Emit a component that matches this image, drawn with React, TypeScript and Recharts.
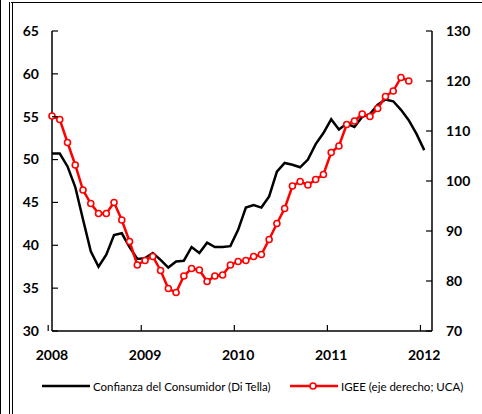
import { ComposedChart, Line, XAxis, YAxis, Legend } from 'recharts';

const years = [2008, 2009, 2010, 2011, 2012];
const months: string[] = [];
years.forEach((y) => {
  for (let m = 1; m <= 12; m++) {
    if (y === 2012 && m > 2) break;
    months.push(`${y}-${String(m).padStart(2, '0')}`);
  }
});

// Confianza del Consumidor (Di Tella), left axis
const confianza: (number | null)[] = [
  50.7, 50.7, 49.2, 46.8, 43.0, 39.3, 37.5, 38.9, 41.2, 41.4, 39.8, 38.4,
  38.5, 39.1, 38.3, 37.4, 38.1, 38.2, 39.8, 39.1, 40.3, 39.8, 39.8, 39.9,
  41.8, 44.4, 44.7, 44.4, 45.7, 48.6, 49.6, 49.4, 49.1, 50.0, 51.8, 53.1,
  54.7, 53.5, 54.2, 53.8, 55.0, 55.3, 56.4, 57.0, 56.8, 55.8, 54.6, 53.0,
  51.1, null,
];

// IGEE (eje derecho; UCA), right axis
const igee: (number | null)[] = [
  113.0, 112.3, 107.7, 103.2, 98.2, 95.5, 93.5, 93.5, 95.7, 92.2, 87.9, 83.2,
  84.1, 84.9, 82.1, 78.5, 77.7, 81.0, 82.5, 82.2, 79.9, 81.0, 81.2, 83.2,
  83.9, 84.1, 84.9, 85.3, 88.3, 91.5, 94.5, 99.0, 99.9, 99.2, 100.3, 101.3,
  105.7, 107.0, 111.3, 112.0, 113.4, 112.9, 114.5, 116.9, 118.0, 120.7, 120.0, null,
  null, null,
];

const yearTicks = ['2008-01', '2009-01', '2010-01', '2011-01', '2012-01'];
const leftTicks = [30, 35, 40, 45, 50, 55, 60, 65];
const rightTicks = [70, 80, 90, 100, 110, 120, 130];

const data = months.map((m, i) => ({ month: m, confianza: confianza[i], igee: igee[i] }));

const W = 482;
const H = 414;
const PLOT_LEFT = 52;
const PLOT_RIGHT = 432;
const BAND = (PLOT_RIGHT - PLOT_LEFT) / months.length;
const FONT = 'Lato, "Open Sans", sans-serif';

const LeftTick = (props: any) => {
  const { x, y, payload } = props;
  return (
    <g>
      <line x1={x} x2={x + 6} y1={y} y2={y} stroke="#000" strokeWidth={1.2} />
      <text x={x - 13} y={y} dy="0.35em" textAnchor="end" fontFamily={FONT} fontWeight={700} fontSize={14} fill="#000">
        {payload.value}
      </text>
    </g>
  );
};

const RightTick = (props: any) => {
  const { x, y, payload } = props;
  return (
    <g>
      <line x1={x - 6} x2={x} y1={y} y2={y} stroke="#000" strokeWidth={1.2} />
      <text x={x + 14} y={y} dy="0.35em" textAnchor="start" fontFamily={FONT} fontWeight={700} fontSize={14} fill="#000">
        {payload.value}
      </text>
    </g>
  );
};

const BottomTick = (props: any) => {
  const { x, y, payload } = props;
  const tx = x - BAND / 2;
  return (
    <g>
      <line x1={tx} x2={tx} y1={y - 6} y2={y} stroke="#000" strokeWidth={1.2} />
      <text x={x} y={y + 29} textAnchor="middle" fontFamily={FONT} fontWeight={700} fontSize={14} fill="#000">
        {String(payload.value).slice(0, 4)}
      </text>
    </g>
  );
};

const LegendContent = () => (
  <div style={{ position: 'relative', width: W, height: 20, fontFamily: FONT, fontSize: 11.5, color: '#000' }}>
    <div style={{ position: 'absolute', left: 42, top: 0, height: 20, display: 'flex', alignItems: 'center' }}>
      <svg width={48} height={10}>
        <line x1={0} x2={48} y1={5} y2={5} stroke="#000" strokeWidth={2.5} />
      </svg>
      <span style={{ marginLeft: 3 }}>Confianza del Consumidor (Di Tella)</span>
    </div>
    <div style={{ position: 'absolute', left: 290, top: 0, height: 20, display: 'flex', alignItems: 'center' }}>
      <svg width={48} height={10}>
        <line x1={0} x2={48} y1={5} y2={5} stroke="#ff0000" strokeWidth={2.5} />
        <circle cx={23} cy={5} r={3} fill="#fff" stroke="#ff0000" strokeWidth={1.6} />
      </svg>
      <span style={{ marginLeft: 3 }}>IGEE (eje derecho; UCA)</span>
    </div>
  </div>
);

export default function App() {
  return (
    <div style={{ position: 'absolute', left: 0, top: 0, width: W, height: H, overflow: 'hidden', background: '#fff' }}>
      {/* page frame remnants */}
      <div style={{ position: 'absolute', left: 0, top: 0, width: 1, height: H, background: '#000' }} />
      <div
        style={{
          position: 'absolute',
          left: 9,
          top: 2,
          width: 600,
          height: 600,
          borderTop: '1.5px solid #000',
          borderLeft: '4px double #000',
        }}
      />
      <div style={{ position: 'absolute', left: 0, top: 0 }}>
        <ComposedChart width={W} height={H} data={data} margin={{ top: 31, right: 0, bottom: 18, left: 0 }}>
          <XAxis
            dataKey="month"
            ticks={yearTicks}
            interval={0}
            tickSize={0}
            tickMargin={0}
            tickLine={false}
            tick={<BottomTick />}
            height={45}
            axisLine={{ stroke: '#000', strokeWidth: 1.5 }}
          />
          <YAxis
            yAxisId="left"
            orientation="left"
            domain={[30, 65]}
            ticks={leftTicks}
            interval={0}
            width={52}
            tickSize={0}
            tickMargin={0}
            tickLine={false}
            tick={<LeftTick />}
            axisLine={{ stroke: '#000', strokeWidth: 1.5 }}
          />
          <YAxis
            yAxisId="right"
            orientation="right"
            domain={[70, 130]}
            ticks={rightTicks}
            interval={0}
            width={50}
            tickSize={0}
            tickMargin={0}
            tickLine={false}
            tick={<RightTick />}
            axisLine={{ stroke: '#000', strokeWidth: 1.5 }}
          />
          <Legend verticalAlign="bottom" content={<LegendContent />} />
          <Line
            yAxisId="left"
            type="linear"
            dataKey="confianza"
            stroke="#000"
            strokeWidth={2.5}
            dot={false}
            isAnimationActive={false}
          />
          <Line
            yAxisId="right"
            type="linear"
            dataKey="igee"
            stroke="#ff0000"
            strokeWidth={2.5}
            dot={{ r: 3, fill: '#fff', stroke: '#ff0000', strokeWidth: 1.6 }}
            isAnimationActive={false}
          />
        </ComposedChart>
      </div>
    </div>
  );
}
